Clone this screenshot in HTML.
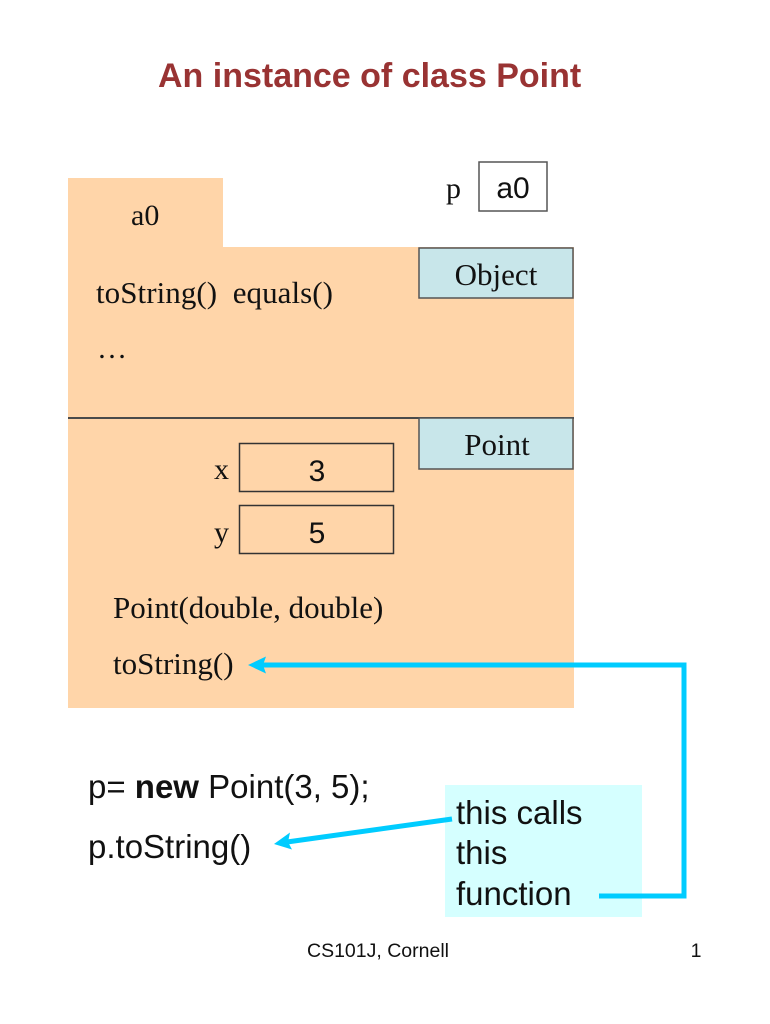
<!DOCTYPE html>
<html><head><meta charset="utf-8"><style>
html,body{margin:0;padding:0;background:#fff;}
svg{display:block;}
.t{font-family:"Liberation Serif",serif;font-size:30px;fill:#111;}
.a{font-family:"Liberation Sans",sans-serif;fill:#111;}
</style></head><body>
<svg width="770" height="1024" viewBox="0 0 770 1024" xmlns="http://www.w3.org/2000/svg">
<rect width="770" height="1024" fill="#fff"/>
<text x="158" y="87" class="a" style="font-size:34px;font-weight:bold;fill:#993333">An instance of class Point</text>

<!-- orange object -->
<rect x="68" y="178" width="155" height="70" fill="#FFD5A9"/>
<rect x="68" y="247" width="506" height="461" fill="#FFD5A9"/>
<line x1="68" y1="418" x2="574" y2="418" stroke="#4a4a4a" stroke-width="2"/>

<text x="131" y="225" class="t">a0</text>
<text x="96" y="303" class="t" style="white-space:pre;font-size:31px" textLength="237" lengthAdjust="spacing">toString()  equals()</text>
<text x="97" y="358" class="t">…</text>

<rect x="419" y="248" width="154" height="50" fill="#C8E6EA" stroke="#555" stroke-width="1.5"/>
<text x="496" y="285" class="t" text-anchor="middle" style="font-size:31px">Object</text>
<rect x="419" y="418" width="154" height="51" fill="#C8E6EA" stroke="#555" stroke-width="1.5"/>
<text x="497" y="455" class="t" text-anchor="middle" style="font-size:31px">Point</text>

<text x="446" y="198" class="t">p</text>
<rect x="479" y="162" width="68" height="49" fill="#fff" stroke="#555" stroke-width="1.5"/>
<text x="513" y="198" class="a" text-anchor="middle" style="font-size:30px">a0</text>

<text x="214" y="479" class="t">x</text>
<rect x="239.5" y="443.5" width="154" height="48" fill="none" stroke="#333" stroke-width="1.5"/>
<text x="317" y="481" class="a" text-anchor="middle" style="font-size:30px">3</text>
<text x="214" y="542" class="t">y</text>
<rect x="239.5" y="505.5" width="154" height="48" fill="none" stroke="#333" stroke-width="1.5"/>
<text x="317" y="543" class="a" text-anchor="middle" style="font-size:30px">5</text>

<text x="113" y="618" class="t" style="font-size:31px">Point(double, double)</text>
<text x="113" y="674" class="t" style="font-size:31px">toString()</text>

<!-- code -->
<text x="88" y="798" class="a" style="font-size:33px">p= <tspan font-weight="bold">new</tspan> Point(3, 5);</text>
<text x="88" y="858" class="a" style="font-size:33px">p.toString()</text>

<!-- cyan note -->
<rect x="445" y="785" width="197" height="132" fill="#D5FFFF"/>
<text x="456" y="824" class="a" style="font-size:33px">this calls</text>
<text x="456" y="864" class="a" style="font-size:33px">this</text>
<text x="456" y="905" class="a" style="font-size:33px">function</text>

<!-- connectors -->
<polyline points="599,896 684,896 684,665 262,665" fill="none" stroke="#00CCFF" stroke-width="5"/>
<polygon points="248,665 266,656.5 263,665 266,673.5" fill="#00CCFF"/>
<line x1="452" y1="819" x2="287" y2="842" stroke="#00CCFF" stroke-width="5"/>
<polygon points="274,844 290,832.5 288,842 292,849.5" fill="#00CCFF"/>

<text x="378" y="957" class="a" text-anchor="middle" style="font-size:19.5px">CS101J, Cornell</text>
<text x="696" y="957" class="a" text-anchor="middle" style="font-size:19.5px">1</text>
</svg>
</body></html>
